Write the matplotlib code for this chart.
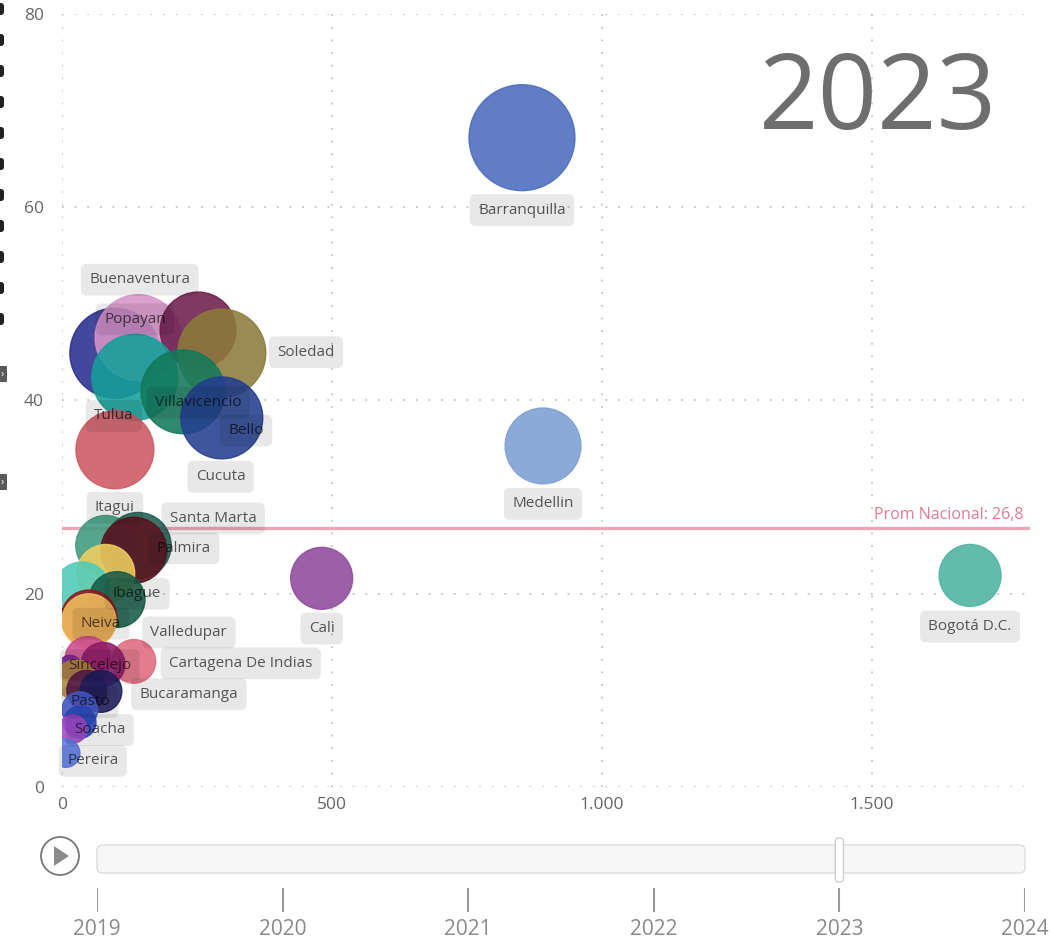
import numpy as np
import matplotlib.pyplot as plt
from matplotlib.patches import FancyBboxPatch, Circle, Polygon
from matplotlib.ticker import FuncFormatter

plt.rcParams['font.family'] = ['Open Sans', 'DejaVu Sans']

anio = 2023
anios = [2019, 2020, 2021, 2022, 2023, 2024]
prom_nacional = 26.8

# one entry per bubble (drawing order); '' = label hidden in the report
ciudad = ['Barranquilla', 'Medellin', 'Bogotá D.C.', 'Cali',
          'Popayan', 'Buenaventura', 'Bello', 'Soledad', 'Tulua', 'Villavicencio', 'Cucuta', 'Itagui',
          '', 'Santa Marta', 'Palmira', '', '', 'Ibague', '', 'Neiva',
          'Cartagena De Indias', 'Sincelejo', 'Valledupar', '', '', '', 'Bucaramanga',
          'Pasto', '', 'Soacha', 'Pereira']
casos = [852, 891, 1682, 481,
         98, 141, 252, 296, 135, 224, 296, 98,
         81, 141, 133, 81, 37, 102, 50, 50,
         133, 48, 76, 15, 26, 46, 72,
         33, 33, 20, 7]
tasa = [67.2, 35.3, 21.9, 21.6,
        44.9, 46.5, 47.3, 44.9, 42.4, 40.9, 38.2, 34.9,
        25.0, 25.0, 24.5, 22.1, 20.4, 19.4, 17.5, 17.2,
        13.0, 13.2, 12.7, 12.4, 11.1, 10.0, 9.9,
        8.0, 6.7, 6.0, 3.5]
tamano = [281, 144, 96, 96,
          203, 185, 144, 194, 185, 176, 168, 152,
          90, 109, 109, 84, 78, 78, 78, 73,
          48, 53, 48, 14, 40, 40, 44,
          32, 26, 20, 20]

colores = ['#4a6bbf', '#7b9fd3', '#4db3a0', '#8e4a9c',
           '#2a2e8e', '#d994c9', '#6d1f4e', '#8b7b3b', '#139f98', '#13795b', '#233f8e', '#cd5862',
           '#3f9a7e', '#1e6153', '#5b1320', '#efd060', '#4fcbb8', '#165c47', '#8c1a1e', '#f2bf5f',
           '#e06a80', '#cc4a90', '#8e1b66', '#7a22a0', '#b08a3c', '#55184a', '#1d1d5e',
           '#4a5fd0', '#2b49c0', '#a549c8', '#5b7be8']

# where the report put each visible label (data units)
pos_etiqueta = {
    'Barranquilla': (852, 59.7), 'Medellin': (891, 29.3), 'Bogotá D.C.': (1682, 16.6),
    'Cali': (481, 16.4), 'Buenaventura': (144, 52.5), 'Popayan': (135, 48.4),
    'Soledad': (452, 45.0), 'Villavicencio': (252, 39.8), 'Tulua': (96, 38.4),
    'Bello': (341, 36.9), 'Cucuta': (294, 32.1), 'Itagui': (98, 28.9),
    'Santa Marta': (280, 27.8), 'Palmira': (226, 24.7), 'Ibague': (139, 20.0),
    'Neiva': (72, 16.9), 'Valledupar': (235, 16.0), 'Cartagena De Indias': (331, 12.8),
    'Sincelejo': (70, 12.6), 'Bucaramanga': (235, 9.6), 'Pasto': (52, 8.8),
    'Soacha': (70, 5.9), 'Pereira': (57, 2.7),
}

W, H = 1050, 944
fig = plt.figure(figsize=(W / 100, H / 100), dpi=100)

# overlay in pixel units for the cut-off report chrome
bg = fig.add_axes([0, 0, 1, 1], zorder=0)
bg.set_xlim(0, W)
bg.set_ylim(H, 0)
bg.axis('off')
for k in range(11):
    y0 = 3 + k * 31
    bg.add_patch(FancyBboxPatch((-4, y0), 8, 12, boxstyle='round,pad=0,rounding_size=3',
                                fc='#222222', ec='none'))
for y0 in [366, 474]:
    bg.add_patch(FancyBboxPatch((-3, y0), 10, 16, boxstyle='round,pad=0,rounding_size=1',
                                fc='#5a5a5a', ec='none'))
    bg.text(2, y0 + 8, '›', color='white', fontsize=8, ha='center', va='center')
# play button
bg.add_patch(Circle((60, 856), 19, fc='white', ec='#777777', lw=1.3))
bg.add_patch(Polygon([(54, 846), (54, 866), (69, 856)], closed=True, fc='#8a8a8a', ec='none'))

# main bubble chart
ax = fig.add_axes([62 / W, 1 - 787 / H, 968 / W, 773 / H], zorder=1)
ax.set_xlim(0, 1793)
ax.set_ylim(0, 80)
ax.set_facecolor('none')
for s in ax.spines.values():
    s.set_visible(False)
ax.set_xticks([0, 500, 1000, 1500])
ax.set_yticks([0, 20, 40, 60, 80])
ax.xaxis.set_major_formatter(FuncFormatter(lambda v, p: f'{v:,.0f}'.replace(',', '.')))
ax.tick_params(length=0, labelsize=12.5, labelcolor='#666666')
ax.tick_params(axis='y', pad=13)
ax.tick_params(axis='x', pad=7)
ax.grid(True, color='#c4c4c4', linestyle=(0, (1, 6)), linewidth=1.3)
ax.set_axisbelow(True)

ax.axhline(prom_nacional, color='#eba8b6', lw=2.4, zorder=1.5)
ax.text(0.993, prom_nacional + 0.5, f'Prom Nacional: {prom_nacional:.1f}'.replace('.', ','),
        transform=ax.get_yaxis_transform(), ha='right', va='bottom',
        color='#e27b92', fontsize=11.5)

ax.scatter(casos, tasa, s=np.array(tamano) * 20.7, c=colores, edgecolors=colores,
           linewidths=1, alpha=0.88, zorder=3)

# labels: translucent black box and text, so they show through on top of bubbles
for nombre in ciudad:
    if nombre:
        lx, ly = pos_etiqueta[nombre]
        ax.text(lx, ly, nombre, ha='center', va='center', fontsize=11, color=(0, 0, 0, 0.64),
                zorder=4,
                bbox=dict(boxstyle='round,pad=0.55,rounding_size=0.4', fc=(0, 0, 0, 0.09), ec='none'))

ax.text(0.843, 0.886, str(anio), transform=ax.transAxes, ha='center', va='center',
        fontsize=75, color='#6e6e6e', zorder=4)

# play axis slider
sl = fig.add_axes([97 / W, 0, 928 / W, 109 / H], zorder=1)
sl.set_xlim(anios[0], anios[-1])
sl.set_ylim(H, H - 109)
sl.axis('off')
px_yr = 928 / (anios[-1] - anios[0])
sl.add_patch(FancyBboxPatch((anios[0], 845), anios[-1] - anios[0], 28,
                            boxstyle='round,pad=0,rounding_size=0.03', mutation_aspect=px_yr,
                            fc='#f7f7f7', ec='#dcdcdc', lw=1, clip_on=False))
sl.add_patch(FancyBboxPatch((anio - 0.022, 838), 0.044, 44,
                            boxstyle='round,pad=0,rounding_size=0.02', mutation_aspect=px_yr,
                            fc='white', ec='#cfcfcf', lw=1, clip_on=False, zorder=3))
sl.vlines(anios, 888, 912, color='#9a9a9a', lw=1.5)
for a in anios:
    sl.text(a, 930, str(a), ha='center', va='center', fontsize=15, color='#8a8a8a', clip_on=False,
            family=['Liberation Sans Narrow', 'Open Sans'])

plt.savefig('out.png', dpi=100)
